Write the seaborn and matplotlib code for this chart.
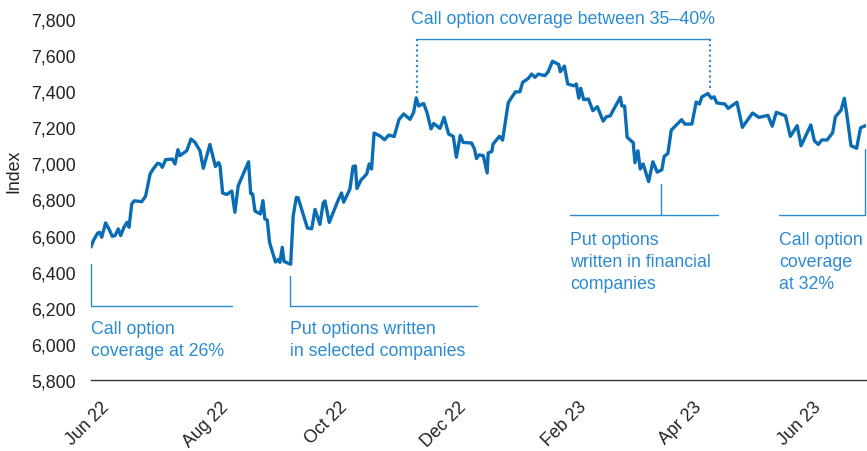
import matplotlib
matplotlib.use("Agg")
import matplotlib.pyplot as plt
import matplotlib.dates as mdates
import numpy as np
import pandas as pd
import seaborn as sns

# ---- data ----
base_date = "2022-05-21"
trade_day = [0, 1.2, 3.4, 4.5, 5.5, 7.5, 9.2, 10.9, 12.3, 14, 15.2, 16.9, 18.5, 19.5, 20.9, 22.2,
             26, 28, 30.3, 31.9, 34.2, 35.4, 36.6, 38.3, 41.7, 43.1, 44.6, 45.6, 49.1, 51.3, 53.3,
             55.9, 57.6, 61, 63.8, 65.4, 66.2, 67.5, 69.6, 72.2, 73.8, 75.5, 80.8, 81.9, 82.9, 84.1,
             86.9, 88.2, 89.2, 90.4, 91.6, 94.6, 95.9, 96.9, 98.1, 99, 102.4, 103.7, 105.3, 106.2,
             111, 113.2, 114.9, 117.4, 119.1, 120, 122.2, 126.9, 128.5, 129.6, 132.8, 134.4, 135.6,
             136.4, 138.5, 141.4, 142.7, 143.9, 145.2, 148.2, 150.6, 152.7, 155.5, 158, 160.4, 163.6,
             165.5, 166.8, 168.1, 170.6, 172.3, 174.4, 175.8, 179, 181.1, 183.4, 185.8, 187.4, 189.4,
             190.9, 195.2, 196.7, 197.7, 199, 201.2, 203.2, 203.7, 205.6, 206.2, 209.5, 211.1, 214,
             215.2, 217.7, 220, 221.4, 224.3, 226, 227.7, 229.4, 232.8, 234.5, 236.7, 239.9, 240.7,
             242.8, 244.5, 247.6, 248.9, 250.2, 251.2, 252.7, 255.1, 257.4, 259.7, 262.7, 264.3,
             266.4, 267.7, 271.5, 272.3, 273.7, 275, 278.1, 279, 280.5, 281.7, 283.2, 286, 288.2,
             290.4, 292.8, 294, 295.9, 297.6, 302.9, 304.6, 308.2, 310.4, 312.1, 313.3, 316.4, 318.2,
             319.6, 321, 325.1, 326.8, 331.3, 334.1, 339.3, 342.6, 347.2, 349.4, 351.5, 356.2, 358.7,
             362.2, 364.2, 369.2, 371, 373, 374.9, 377.6, 380.4, 381.8, 384.7, 386.4, 387.7, 389.8,
             392.7, 394.7, 397.2]
index_value = [6537, 6572, 6614, 6618, 6591, 6670, 6637, 6596, 6600, 6637, 6600, 6646, 6674, 6646,
               6775, 6793, 6788, 6818, 6941, 6969, 7001, 6997, 6978, 7021, 7024, 6997, 7076, 7043,
               7070, 7135, 7117, 7070, 6973, 7105, 6983, 7005, 6987, 6836, 6828, 6847, 6729, 6876,
               7009, 6833, 6830, 6736, 6720, 6794, 6692, 6686, 6562, 6454, 6468, 6452, 6535, 6457,
               6441, 6709, 6811, 6810, 6642, 6638, 6745, 6662, 6781, 6792, 6673, 6800, 6836, 6785,
               6858, 6983, 6986, 6861, 6908, 6941, 6997, 6969, 7168, 7152, 7131, 7157, 7149, 7244,
               7274, 7244, 7283, 7363, 7318, 7332, 7283, 7191, 7221, 7194, 7255, 7163, 7150, 7034,
               7155, 7116, 7113, 7080, 7027, 7047, 7043, 6947, 7058, 7066, 7107, 7150, 7129, 7335,
               7357, 7396, 7397, 7449, 7471, 7495, 7477, 7495, 7486, 7508, 7566, 7548, 7508, 7539,
               7440, 7430, 7440, 7361, 7416, 7353, 7357, 7292, 7314, 7234, 7258, 7264, 7292, 7366,
               7318, 7318, 7145, 7115, 7004, 7070, 6969, 6997, 6899, 7009, 6952, 6965, 7039, 7055,
               7184, 7242, 7218, 7218, 7340, 7329, 7368, 7387, 7361, 7369, 7335, 7329, 7305, 7339,
               7200, 7279, 7255, 7266, 7206, 7283, 7264, 7150, 7209, 7098, 7213, 7126, 7105, 7130,
               7130, 7170, 7258, 7295, 7361, 7268, 7098, 7084, 7197, 7209]
y_ticks = [5800, 6000, 6200, 6400, 6600, 6800, 7000, 7200, 7400, 7600, 7800]
annotation_texts = ["Call option coverage between 35\u201340%",
                    "Call option\ncoverage at 26%",
                    "Put options written\nin selected companies",
                    "Put options\nwritten in financial\ncompanies",
                    "Call option\ncoverage\nat 32%"]

base = pd.Timestamp(base_date)
df = pd.DataFrame({"date": base + pd.to_timedelta(trade_day, unit="D"),
                   "value": index_value})

def D(days):
    return base + pd.Timedelta(days=days)

# ---- style ----
sns.set_style("white")
plt.rcParams["font.family"] = ["Liberation Sans", "DejaVu Sans"]

line_color = "#0a6db3"
ann_color = "#2a8bd3"
text_color = "#222222"
fs = 12.8

fig = plt.figure(figsize=(8.67, 4.52), dpi=100)
ax = fig.add_axes([91 / 867, 1 - 381 / 452, 775 / 867, 361 / 452])

sns.lineplot(data=df, x="date", y="value", ax=ax, color=line_color, lw=2.4,
             estimator=None, sort=False)

ax.set_ylim(5800, 7800)
ax.set_xlim(D(0), D(397.5))
ax.set_yticks(y_ticks)
ax.set_yticklabels([f"{t:,}" for t in y_ticks])
ax.xaxis.set_major_locator(mdates.MonthLocator(bymonth=[2, 4, 6, 8, 10, 12]))
ax.xaxis.set_major_formatter(mdates.DateFormatter("%b %y"))
for lab in ax.get_xticklabels():
    lab.set_rotation(45)
    lab.set_ha("right")
ax.tick_params(axis="both", length=0, labelsize=fs, labelcolor=text_color)
ax.tick_params(axis="y", pad=11)
ax.tick_params(axis="x", pad=13)
ax.set_xlabel("")
ax.set_ylabel("Index", fontsize=fs, color=text_color)
ax.yaxis.set_label_coords(-0.089, 0.58)

for s in ["top", "right", "left"]:
    ax.spines[s].set_visible(False)
ax.spines["bottom"].set_color("#333333")
ax.spines["bottom"].set_linewidth(1.0)

# ---- annotations ----
lw_a = 1.0
ls_text = 1.4
# top bracket
ax.plot([D(167.2), D(317.4)], [7689, 7689], color=ann_color, lw=lw_a, clip_on=False)
ax.plot([D(167.2), D(167.2)], [7689, 7390], color=ann_color, lw=1.5, ls=(0, (1, 1.5)), clip_on=False)
ax.plot([D(317.4), D(317.4)], [7689, 7405], color=ann_color, lw=1.5, ls=(0, (1, 1.5)), clip_on=False)
ax.text(D(242), 7780, annotation_texts[0], color=ann_color, fontsize=fs,
        ha="center", va="baseline", clip_on=False)

# bottom left
ax.plot([D(0), D(0), D(72.3)], [6443, 6210, 6210], color=ann_color, lw=lw_a, clip_on=False)
ax.text(D(0), 6132, annotation_texts[1], color=ann_color, fontsize=fs,
        ha="left", va="top", linespacing=ls_text)

# second
ax.plot([D(102), D(102), D(198)], [6376, 6210, 6210], color=ann_color, lw=lw_a, clip_on=False)
ax.text(D(102), 6132, annotation_texts[2], color=ann_color, fontsize=fs,
        ha="left", va="top", linespacing=ls_text)

# third
ax.plot([D(292.3), D(292.3)], [6886, 6714], color=ann_color, lw=lw_a)
ax.plot([D(245.6), D(321.5)], [6714, 6714], color=ann_color, lw=lw_a)
ax.text(D(245.6), 6628, annotation_texts[3], color=ann_color, fontsize=fs,
        ha="left", va="top", linespacing=ls_text)

# fourth
ax.plot([D(352.8), D(396.9), D(396.9)], [6714, 6714, 7080], color=ann_color, lw=lw_a, clip_on=False)
ax.text(D(352.8), 6628, annotation_texts[4], color=ann_color, fontsize=fs,
        ha="left", va="top", linespacing=ls_text, clip_on=False)

fig.savefig("out.png", dpi=100)
